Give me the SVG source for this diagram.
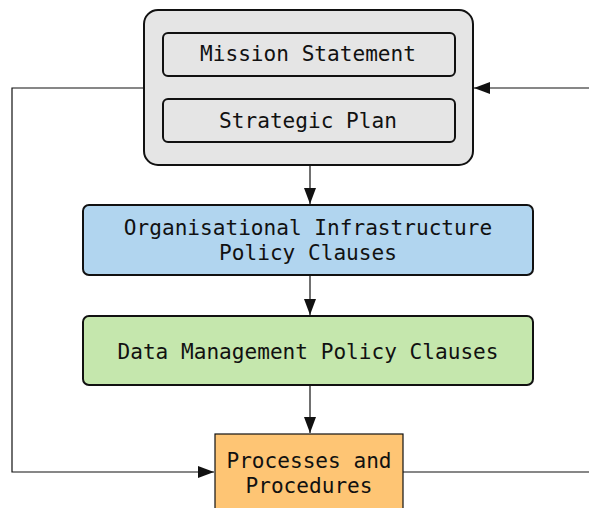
<svg xmlns="http://www.w3.org/2000/svg" width="589" height="508" viewBox="0 0 589 508">
<style>
  .t { font-family: "DejaVu Sans Mono", "Liberation Mono", monospace; font-size: 21.1px; fill: #111; text-anchor: middle; }
  .box { stroke: #111; stroke-width: 2; }
  .conn { fill: none; stroke: #111; stroke-width: 1.2; }
</style>
<defs>
  <marker id="arr" viewBox="0 0 16 12" refX="16" refY="6" markerWidth="16" markerHeight="12" markerUnits="userSpaceOnUse" orient="auto">
    <path d="M0,0 L16,6 L0,12 Z" fill="#111"/>
  </marker>
</defs>
<rect width="589" height="508" fill="#fff"/>
<g id="connectors">
  <path class="conn" d="M144,88 H12 V472 H214" marker-end="url(#arr)"/>
  <path class="conn" d="M403,472 H589"/>
  <path class="conn" d="M589,88 H474" marker-end="url(#arr)"/>
  <path class="conn" d="M310,165 V204" marker-end="url(#arr)"/>
  <path class="conn" d="M310,276 V315" marker-end="url(#arr)"/>
  <path class="conn" d="M310,386 V433" marker-end="url(#arr)"/>
</g>
<g id="strategy">
  <rect class="box" x="144" y="10" width="329" height="155" rx="14" fill="#e5e5e5"/>
  <g id="mission">
    <rect class="box" x="163" y="33" width="292" height="43" rx="5" fill="#e5e5e5"/>
    <text class="t" x="308" y="61">Mission Statement</text>
  </g>
  <g id="plan">
    <rect class="box" x="163" y="99" width="292" height="43" rx="5" fill="#e5e5e5"/>
    <text class="t" x="308" y="128">Strategic Plan</text>
  </g>
</g>
<g id="infra">
  <rect class="box" x="83" y="205" width="450" height="70" rx="6" fill="#b1d5ef"/>
  <text class="t" x="308" y="235">Organisational Infrastructure</text>
  <text class="t" x="308" y="260">Policy Clauses</text>
</g>
<g id="data">
  <rect class="box" x="83" y="316" width="450" height="69" rx="6" fill="#c5e7ad"/>
  <text class="t" x="308" y="359">Data Management Policy Clauses</text>
</g>
<g id="processes">
  <rect x="215" y="434" width="188" height="80" fill="#fec574" stroke="#111" stroke-width="1.2"/>
  <text class="t" x="309" y="468">Processes and</text>
  <text class="t" x="309" y="493">Procedures</text>
</g>
</svg>
